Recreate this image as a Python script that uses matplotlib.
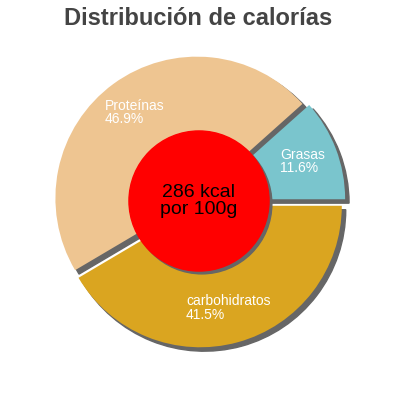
import matplotlib
matplotlib.use("Agg")
import matplotlib.pyplot as plt

# datos
nutrientes = ["Grasas", "Proteínas", "carbohidratos"]
porcentajes = [11.6, 46.9, 41.5]
colores = ["#7AC5CD", "#EEC591", "#DAA520"]
separacion = [0.035, 0.025, 0.035]
kcal = 286

plt.rcParams['font.family'] = ['Liberation Sans', 'DejaVu Sans']

fig = plt.figure(figsize=(4, 4), dpi=100)
ax = fig.add_axes([0, 0, 1, 1])

etiquetas = [f"{n}\n{p:.1f}%" for n, p in zip(nutrientes, porcentajes)]
sombra = {'ox': 0.02, 'oy': -0.02, 'facecolor': '#666666',
          'edgecolor': '#666666', 'alpha': 1}

wedges, texts = ax.pie(porcentajes, labels=etiquetas, colors=colores,
                       startangle=0, counterclock=True,
                       explode=separacion,
                       shadow=sombra, labeldistance=0.75,
                       textprops={'color': 'white', 'fontsize': 10})
for t in texts:
    t.set_horizontalalignment('center')
    t.set_verticalalignment('center')
    t.set_multialignment('left')
    t.set_linespacing(0.95)

# círculo central con sombra
ax.add_patch(plt.Circle((0.02, -0.02), 0.495, color='#666666', zorder=3))
ax.add_patch(plt.Circle((0, 0), 0.495, color='#FF0000', zorder=4))
ax.text(0, 0, f"{kcal} kcal\npor 100g", ha='center', va='center',
        fontsize=14, color='black', zorder=5, linespacing=1.0)

esc = 141.5
ax.set_xlim(-199 / esc, 201 / esc)
ax.set_ylim(-199 / esc, 201 / esc)
ax.set_aspect('equal')
ax.axis('off')

fig.text(0.495, 0.9375, "Distribución de calorías", ha='center',
         va='baseline', fontsize=17, fontweight='bold', color='#444444')

fig.savefig("out.png", dpi=100)
